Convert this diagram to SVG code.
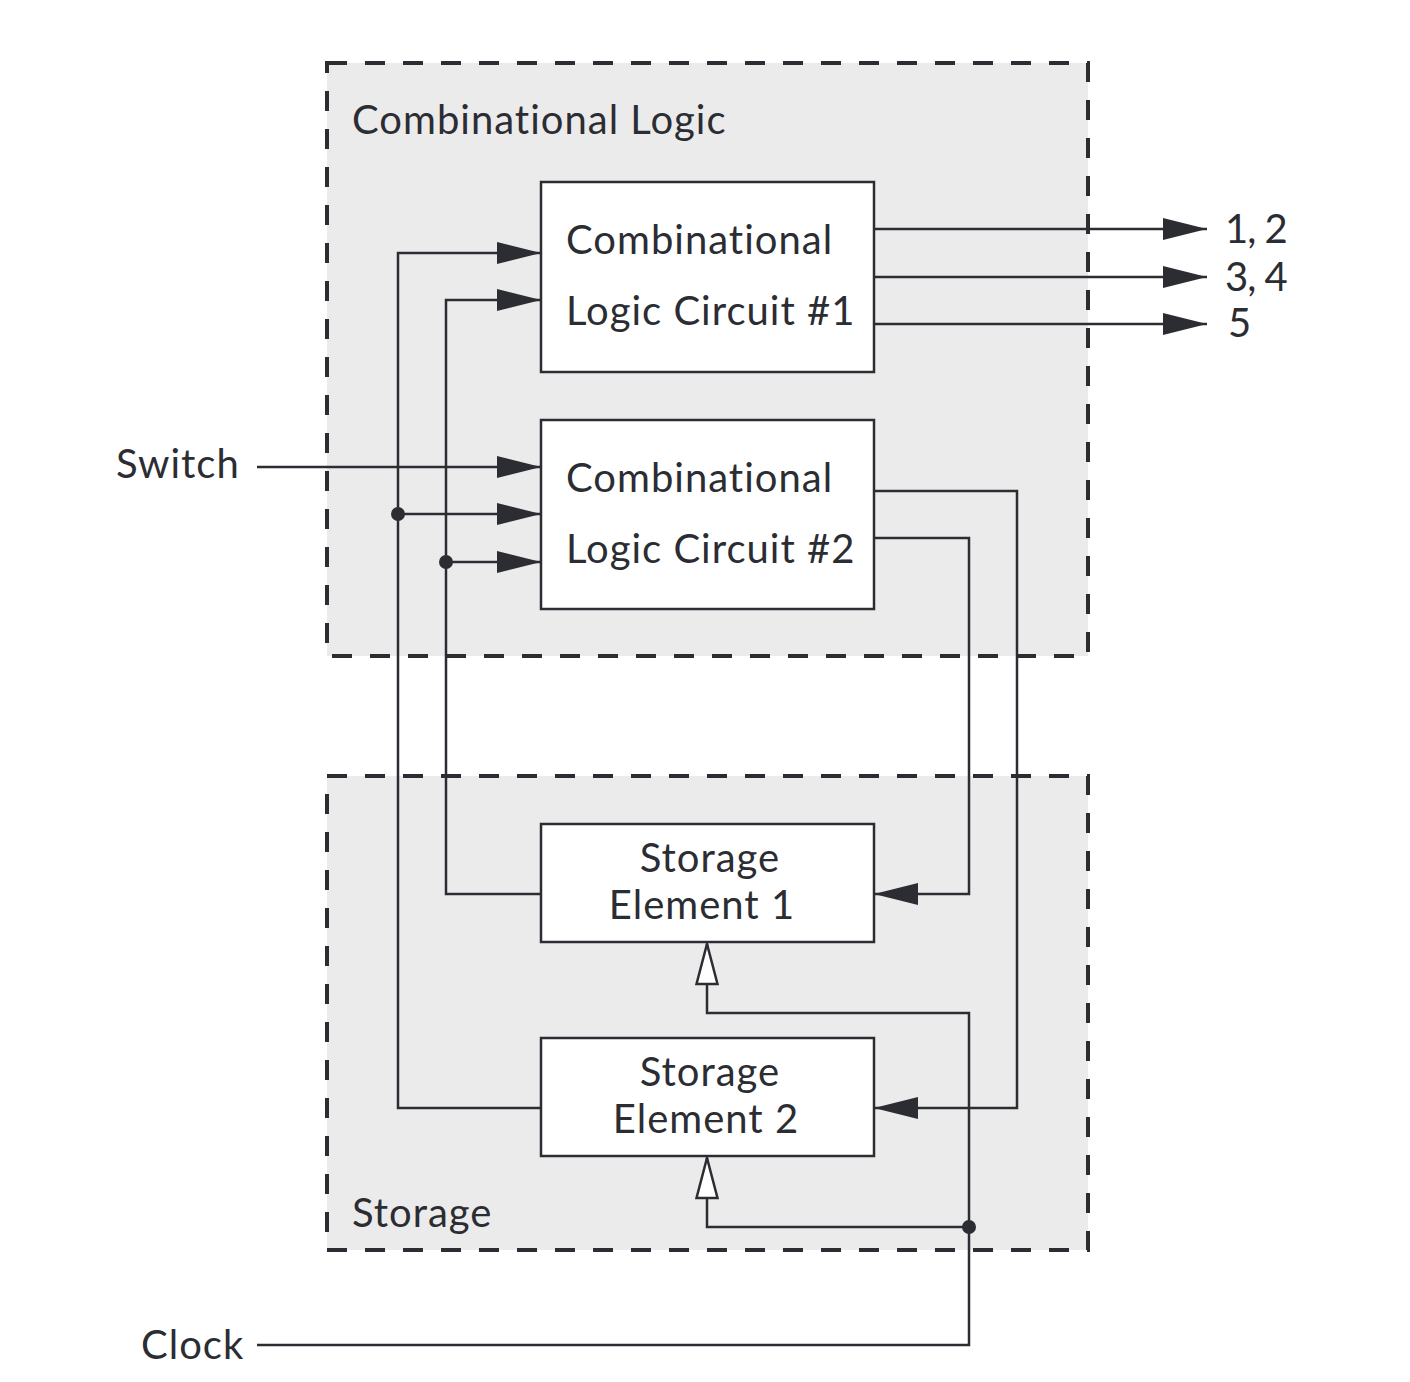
<svg xmlns="http://www.w3.org/2000/svg" width="1410" height="1382" viewBox="0 0 1410 1382">
<defs>
<style>
.region{fill:#ebebeb;stroke:#2b2d33;stroke-width:4;stroke-dasharray:20 18}
.box{fill:#ffffff;stroke:#2b2d33;stroke-width:2.5}
.wire{fill:none;stroke:#2b2d33;stroke-width:2.5}
.t{font-family:Lato,"Open Sans",sans-serif;font-size:40px;fill:#2b2d33;letter-spacing:1px}
.n{letter-spacing:-1px}
.dot{fill:#2b2d33}
</style>
<marker id="ah" markerUnits="userSpaceOnUse" viewBox="0 0 44 22" refX="44" refY="11" markerWidth="44" markerHeight="22" orient="auto">
<path d="M0,0 L44,11 L0,22 Z" fill="#2b2d33"/>
</marker>
<marker id="oh" markerUnits="userSpaceOnUse" viewBox="-2 -2 44 25" refX="40" refY="10.5" markerWidth="44" markerHeight="25" orient="auto">
<path d="M0,0 L40,10.5 L0,21 Z" fill="#ffffff" stroke="#2b2d33" stroke-width="2.5"/>
</marker>
</defs>
<rect width="1410" height="1382" fill="#ffffff"/>
<g id="combinational-logic">
<rect class="region" x="327" y="63" width="761" height="593"/>
<text class="t" x="352" y="134">Combinational Logic</text>
</g>
<g id="storage">
<rect class="region" x="327" y="776" width="761" height="474"/>
<text class="t" x="352" y="1227">Storage</text>
</g>
<g id="clc1">
<rect class="box" x="541" y="182" width="333" height="190"/>
<text class="t" x="566" y="254">Combinational</text>
<text class="t" x="566" y="325">Logic Circuit #1</text>
</g>
<g id="clc2">
<rect class="box" x="541" y="420" width="333" height="189"/>
<text class="t" x="566" y="492">Combinational</text>
<text class="t" x="566" y="563">Logic Circuit #2</text>
</g>
<g id="se1">
<rect class="box" x="541" y="824" width="333" height="118"/>
<text class="t" x="710" y="872" text-anchor="middle">Storage</text>
<text class="t" x="702" y="919" text-anchor="middle">Element 1</text>
</g>
<g id="se2">
<rect class="box" x="541" y="1038" width="333" height="118"/>
<text class="t" x="710" y="1086" text-anchor="middle">Storage</text>
<text class="t" x="706" y="1133" text-anchor="middle">Element 2</text>
</g>
<g id="labels">
<text class="t" x="116" y="478">Switch</text>
<text class="t" x="141" y="1359">Clock</text>
<text class="t n" x="1225" y="243">1, 2</text>
<text class="t n" x="1225" y="291">3, 4</text>
<text class="t n" x="1228" y="337">5</text>
</g>
<g id="connectors">
<path class="wire" d="M874,229 H1207" marker-end="url(#ah)"/>
<path class="wire" d="M874,277 H1207" marker-end="url(#ah)"/>
<path class="wire" d="M874,324 H1207" marker-end="url(#ah)"/>
<path class="wire" d="M541,1108 H398 V253 H541" marker-end="url(#ah)"/>
<path class="wire" d="M541,894 H446 V300 H541" marker-end="url(#ah)"/>
<path class="wire" d="M257,467 H541" marker-end="url(#ah)"/>
<path class="wire" d="M398,514 H541" marker-end="url(#ah)"/>
<path class="wire" d="M446,562 H541" marker-end="url(#ah)"/>
<circle class="dot" cx="398" cy="514" r="7"/>
<circle class="dot" cx="446" cy="562" r="7"/>
<path class="wire" d="M874,491 H1017 V1108 H874" marker-end="url(#ah)"/>
<path class="wire" d="M874,538 H969 V894 H874" marker-end="url(#ah)"/>
<path class="wire" d="M257,1345 H969 V1013 H707 V944" marker-end="url(#oh)"/>
<path class="wire" d="M969,1227 H707 V1158" marker-end="url(#oh)"/>
<circle class="dot" cx="969" cy="1227" r="7"/>
</g>
</svg>
